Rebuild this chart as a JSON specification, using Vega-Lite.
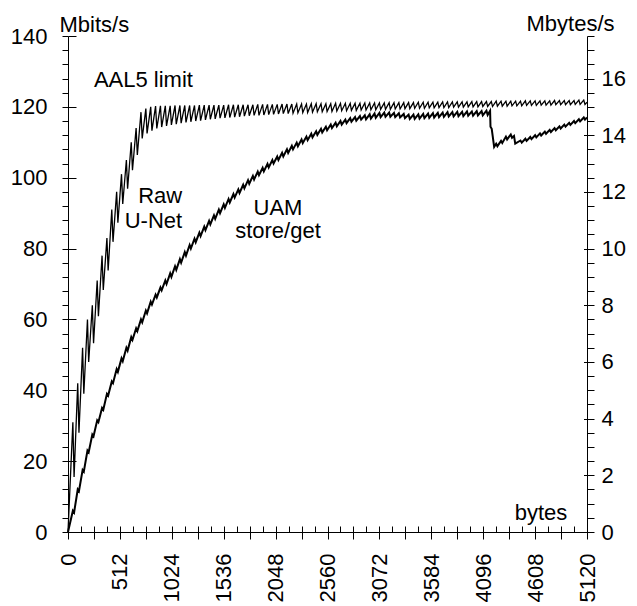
{
  "$schema": "https://vega.github.io/schema/vega-lite/v6.json",
  "autosize": "none",
  "width": 519,
  "height": 496,
  "padding": {"left": 68, "top": 36, "right": 50, "bottom": 74},
  "background": "white",
  "config": {
    "font": "Liberation Sans",
    "view": {"stroke": null},
    "axis": {
      "domainColor": "black", "tickColor": "black", "labelColor": "black",
      "labelFont": "Liberation Sans", "labelFontSize": 22,
      "titleFont": "Liberation Sans", "titleFontSize": 22, "titleFontWeight": "normal", "titleColor": "black",
      "grid": false, "labelFlush": false, "labelOverlap": false, "labelBound": false,
      "tickWidth": 1, "domainWidth": 1
    }
  },
  "datasets": {
    "raw": [
      {"b":0,"v":0},{"b":48,"v":31},{"b":60,"v":15.5},{"b":96,"v":42},{"b":108,"v":28},{"b":144,"v":52},{"b":156,"v":39},
      {"b":192,"v":60},{"b":204,"v":48},{"b":240,"v":64},{"b":252,"v":53.3},{"b":288,"v":71},{"b":300,"v":60.9},
      {"b":336,"v":78},{"b":348,"v":68.3},{"b":384,"v":83},{"b":396,"v":73.8},{"b":432,"v":91},{"b":444,"v":81.9},
      {"b":480,"v":96},{"b":492,"v":87.3},{"b":528,"v":101},{"b":540,"v":92.6},{"b":576,"v":105},{"b":588,"v":96.9},
      {"b":624,"v":110},{"b":636,"v":102.1},{"b":672,"v":114},{"b":684,"v":106.4},{"b":720,"v":118.5},{"b":732,"v":111.1},
      {"b":768,"v":119.5},{"b":780,"v":112.5},{"b":816,"v":120},{"b":828,"v":113.3},{"b":864,"v":120.2},{"b":876,"v":113.9},
      {"b":912,"v":120.3},{"b":924,"v":114.3},{"b":960,"v":120.3},{"b":972,"v":114.6},{"b":1008,"v":120.3},{"b":1020,"v":114.9},
      {"b":1056,"v":120.4},{"b":1068,"v":115.1},{"b":1104,"v":120.4},{"b":1116,"v":115.4},{"b":1152,"v":120.4},{"b":1164,"v":115.6},
      {"b":1200,"v":120.4},{"b":1212,"v":115.8},{"b":1248,"v":120.4},{"b":1260,"v":116.0},{"b":1296,"v":120.5},{"b":1308,"v":116.1},
      {"b":1344,"v":120.5},{"b":1356,"v":116.3},{"b":1392,"v":120.5},{"b":1404,"v":116.5},{"b":1440,"v":120.5},{"b":1452,"v":116.6},
      {"b":1488,"v":120.5},{"b":1500,"v":116.8},{"b":1536,"v":120.5},{"b":1548,"v":116.9},{"b":1584,"v":120.6},{"b":1596,"v":117.0},
      {"b":1632,"v":120.6},{"b":1644,"v":117.1},{"b":1680,"v":120.6},{"b":1692,"v":117.2},{"b":1728,"v":120.6},{"b":1740,"v":117.4},
      {"b":1776,"v":120.6},{"b":1788,"v":117.5},{"b":1824,"v":120.6},{"b":1836,"v":117.6},{"b":1872,"v":120.7},{"b":1884,"v":117.6},
      {"b":1920,"v":120.7},{"b":1932,"v":117.7},{"b":1968,"v":120.7},{"b":1980,"v":117.8},{"b":2016,"v":120.7},{"b":2028,"v":117.9},
      {"b":2064,"v":120.7},{"b":2076,"v":118.0},{"b":2112,"v":120.8},{"b":2124,"v":118.1},{"b":2160,"v":120.8},{"b":2172,"v":118.1},
      {"b":2208,"v":120.8},{"b":2220,"v":118.2},{"b":2256,"v":120.8},{"b":2268,"v":118.3},{"b":2304,"v":120.8},{"b":2316,"v":118.4},
      {"b":2352,"v":120.8},{"b":2364,"v":118.4},{"b":2400,"v":120.9},{"b":2412,"v":118.5},{"b":2448,"v":120.9},{"b":2460,"v":118.6},
      {"b":2496,"v":120.9},{"b":2508,"v":118.6},{"b":2544,"v":120.9},{"b":2556,"v":118.7},{"b":2592,"v":120.9},{"b":2604,"v":118.7},
      {"b":2640,"v":121.0},{"b":2652,"v":118.8},{"b":2688,"v":121.0},{"b":2700,"v":118.9},{"b":2736,"v":121.0},{"b":2748,"v":118.9},
      {"b":2784,"v":121.0},{"b":2796,"v":119.0},{"b":2832,"v":121.0},{"b":2844,"v":119.0},{"b":2880,"v":121.0},{"b":2892,"v":119.1},
      {"b":2928,"v":121.1},{"b":2940,"v":119.1},{"b":2976,"v":121.1},{"b":2988,"v":119.2},{"b":3024,"v":121.1},{"b":3036,"v":119.2},
      {"b":3072,"v":121.1},{"b":3084,"v":119.3},{"b":3120,"v":121.1},{"b":3132,"v":119.3},{"b":3168,"v":121.2},{"b":3180,"v":119.3},
      {"b":3216,"v":121.2},{"b":3228,"v":119.4},{"b":3264,"v":121.2},{"b":3276,"v":119.4},{"b":3312,"v":121.2},{"b":3324,"v":119.5},
      {"b":3360,"v":121.2},{"b":3372,"v":119.5},{"b":3408,"v":121.2},{"b":3420,"v":119.6},{"b":3456,"v":121.3},{"b":3468,"v":119.6},
      {"b":3504,"v":121.3},{"b":3516,"v":119.6},{"b":3552,"v":121.3},{"b":3564,"v":119.7},{"b":3600,"v":121.3},{"b":3612,"v":119.7},
      {"b":3648,"v":121.3},{"b":3660,"v":119.8},{"b":3696,"v":121.4},{"b":3708,"v":119.8},{"b":3744,"v":121.4},{"b":3756,"v":119.8},
      {"b":3792,"v":121.4},{"b":3804,"v":119.9},{"b":3840,"v":121.4},{"b":3852,"v":119.9},{"b":3888,"v":121.4},{"b":3900,"v":119.9},
      {"b":3936,"v":121.4},{"b":3948,"v":120.0},{"b":3984,"v":121.5},{"b":3996,"v":120.0},{"b":4032,"v":121.5},{"b":4044,"v":120.0},
      {"b":4080,"v":121.5},{"b":4092,"v":120.1},{"b":4128,"v":121.5},{"b":4140,"v":120.1},{"b":4176,"v":121.5},{"b":4188,"v":120.1},
      {"b":4224,"v":121.6},{"b":4236,"v":120.2},{"b":4272,"v":121.6},{"b":4284,"v":120.2},{"b":4320,"v":121.6},{"b":4332,"v":120.2},
      {"b":4368,"v":121.6},{"b":4380,"v":120.3},{"b":4416,"v":121.6},{"b":4428,"v":120.3},{"b":4464,"v":121.6},{"b":4476,"v":120.3},
      {"b":4512,"v":121.7},{"b":4524,"v":120.4},{"b":4560,"v":121.7},{"b":4572,"v":120.4},{"b":4608,"v":121.7},{"b":4620,"v":120.4},
      {"b":4656,"v":121.7},{"b":4668,"v":120.5},{"b":4704,"v":121.7},{"b":4716,"v":120.5},{"b":4752,"v":121.7},{"b":4764,"v":120.5},
      {"b":4800,"v":121.8},{"b":4812,"v":120.6},{"b":4848,"v":121.8},{"b":4860,"v":120.6},{"b":4896,"v":121.8},{"b":4908,"v":120.6},
      {"b":4944,"v":121.8},{"b":4956,"v":120.6},{"b":4992,"v":121.8},{"b":5004,"v":120.7},{"b":5040,"v":121.9},{"b":5052,"v":120.7},
      {"b":5088,"v":121.9},{"b":5100,"v":120.7},{"b":5120,"v":121.3}
    ],
    "uam": [
      {"b":0,"v":0},{"b":48,"v":6},{"b":60,"v":5.5},{"b":96,"v":12},{"b":108,"v":11.5},{"b":144,"v":17.5},{"b":156,"v":17},
      {"b":192,"v":23},{"b":204,"v":22.5},{"b":240,"v":27.5},{"b":252,"v":27},{"b":288,"v":31.5},{"b":300,"v":31},
      {"b":336,"v":35},{"b":348,"v":34.5},{"b":384,"v":39},{"b":396,"v":38.5},{"b":432,"v":42.5},{"b":444,"v":42},
      {"b":480,"v":46},{"b":492,"v":45.2},{"b":528,"v":49},{"b":540,"v":48.2},{"b":576,"v":52},{"b":588,"v":51.2},
      {"b":624,"v":55},{"b":636,"v":54.2},{"b":672,"v":57.5},{"b":684,"v":56.7},{"b":720,"v":60},{"b":732,"v":59.2},
      {"b":768,"v":62.5},{"b":780,"v":61.7},{"b":816,"v":65},{"b":828,"v":64.2},{"b":864,"v":67},{"b":876,"v":66.2},
      {"b":912,"v":69},{"b":924,"v":68.2},{"b":960,"v":71},{"b":972,"v":70},{"b":1008,"v":73},{"b":1020,"v":72},
      {"b":1056,"v":75},{"b":1068,"v":74},{"b":1104,"v":77},{"b":1116,"v":76},{"b":1152,"v":79},{"b":1164,"v":78},
      {"b":1200,"v":81},{"b":1212,"v":80},{"b":1248,"v":82.8},{"b":1260,"v":81.8},{"b":1296,"v":84.5},{"b":1308,"v":83.5},
      {"b":1344,"v":86.2},{"b":1356,"v":85.2},{"b":1392,"v":87.8},{"b":1404,"v":86.8},{"b":1440,"v":89.4},{"b":1452,"v":88.4},
      {"b":1488,"v":91},{"b":1500,"v":90},{"b":1536,"v":92.5},{"b":1548,"v":91.5},{"b":1584,"v":94},{"b":1596,"v":93},
      {"b":1632,"v":95.4},{"b":1644,"v":94.4},{"b":1680,"v":96.7},{"b":1692,"v":95.7},{"b":1728,"v":98},{"b":1740,"v":97},
      {"b":1776,"v":99.3},{"b":1788,"v":98.3},{"b":1824,"v":100.5},{"b":1836,"v":99.5},{"b":1872,"v":101.7},{"b":1884,"v":100.7},
      {"b":1920,"v":102.8},{"b":1932,"v":101.8},{"b":1968,"v":103.9},{"b":1980,"v":102.9},{"b":2016,"v":105},{"b":2028,"v":104},
      {"b":2064,"v":106},{"b":2076,"v":105},{"b":2112,"v":107},{"b":2124,"v":106},{"b":2160,"v":108},{"b":2172,"v":107},
      {"b":2208,"v":109},{"b":2220,"v":108},{"b":2256,"v":109.9},{"b":2268,"v":108.9},{"b":2304,"v":110.8},{"b":2316,"v":109.8},
      {"b":2352,"v":111.6},{"b":2364,"v":110.6},{"b":2400,"v":112.4},{"b":2412,"v":111.4},{"b":2448,"v":113.1},{"b":2460,"v":112.1},
      {"b":2496,"v":113.8},{"b":2508,"v":112.8},{"b":2544,"v":114.4},{"b":2556,"v":113.4},{"b":2592,"v":115},{"b":2604,"v":114},
      {"b":2640,"v":115.5},{"b":2652,"v":114.5},{"b":2688,"v":116},{"b":2700,"v":115},{"b":2736,"v":116.4},{"b":2748,"v":115.4},
      {"b":2784,"v":116.8},{"b":2796,"v":115.8},{"b":2832,"v":117.1},{"b":2844,"v":116.1},{"b":2880,"v":117.4},{"b":2892,"v":116.4},
      {"b":2928,"v":117.6},{"b":2940,"v":116.5},{"b":2976,"v":117.9},{"b":2988,"v":116.7},{"b":3024,"v":118.1},{"b":3036,"v":116.9},
      {"b":3072,"v":118.3},{"b":3084,"v":117.1},{"b":3120,"v":118.4},{"b":3132,"v":117.2},{"b":3168,"v":118.4},{"b":3180,"v":117.2},
      {"b":3216,"v":118.3},{"b":3228,"v":117.1},{"b":3264,"v":118.2},{"b":3276,"v":117.0},{"b":3312,"v":118.0},{"b":3324,"v":116.8},
      {"b":3360,"v":117.8},{"b":3372,"v":116.6},{"b":3408,"v":117.8},{"b":3420,"v":116.6},{"b":3456,"v":117.9},{"b":3468,"v":116.7},
      {"b":3504,"v":118.0},{"b":3516,"v":116.8},{"b":3552,"v":118.1},{"b":3564,"v":116.9},{"b":3600,"v":118.2},{"b":3612,"v":117.0},
      {"b":3648,"v":118.3},{"b":3660,"v":117.1},{"b":3696,"v":118.4},{"b":3708,"v":117.2},{"b":3744,"v":118.5},{"b":3756,"v":117.3},
      {"b":3792,"v":118.5},{"b":3804,"v":117.3},{"b":3840,"v":118.6},{"b":3852,"v":117.4},{"b":3888,"v":118.6},{"b":3900,"v":117.4},
      {"b":3936,"v":118.7},{"b":3948,"v":117.5},{"b":3984,"v":118.7},{"b":3996,"v":117.5},{"b":4032,"v":118.8},{"b":4044,"v":117.6},
      {"b":4080,"v":118.8},{"b":4092,"v":117.6},{"b":4128,"v":118.9},{"b":4140,"v":117.7},{"b":4164,"v":118.9},{"b":4168,"v":114.4},
      {"b":4180,"v":113.8},{"b":4204,"v":108.7},{"b":4224,"v":109.6},{"b":4236,"v":108.9},{"b":4272,"v":110.4},{"b":4284,"v":109.8},
      {"b":4320,"v":111.6},{"b":4332,"v":110.8},{"b":4368,"v":112.2},{"b":4380,"v":111.3},{"b":4400,"v":111.8},{"b":4412,"v":109.6},
      {"b":4464,"v":110.5},{"b":4476,"v":109.9},{"b":4512,"v":111.0},{"b":4524,"v":110.4},{"b":4560,"v":111.5},{"b":4572,"v":110.9},
      {"b":4608,"v":112.0},{"b":4620,"v":111.4},{"b":4656,"v":112.5},{"b":4668,"v":111.9},{"b":4704,"v":113.0},{"b":4716,"v":112.4},
      {"b":4752,"v":113.5},{"b":4764,"v":112.9},{"b":4800,"v":114.0},{"b":4812,"v":113.4},{"b":4848,"v":114.5},{"b":4860,"v":113.9},
      {"b":4896,"v":115.0},{"b":4908,"v":114.4},{"b":4944,"v":115.5},{"b":4956,"v":114.9},{"b":4992,"v":116.0},{"b":5004,"v":115.4},
      {"b":5040,"v":116.5},{"b":5052,"v":115.9},{"b":5088,"v":117.0},{"b":5100,"v":116.4},{"b":5120,"v":117.0}
    ],
    "labels": [
      {"t":"AAL5 limit","b":744,"v":125.7},
      {"t":"Raw","b":909,"v":92.9},
      {"t":"U-Net","b":843,"v":85.8},
      {"t":"UAM","b":2071,"v":89.5},
      {"t":"store/get","b":2071,"v":83.0},
      {"t":"bytes","b":4666,"v":3.4}
    ]
  },
  "resolve": {"scale": {"x": "shared", "y": "shared"}, "axis": {"x": "independent", "y": "independent"}},
  "layer": [
    {
      "data": {"name": "raw"},
      "mark": {"type": "line", "color": "black", "strokeWidth": 1.3},
      "encoding": {
        "x": {"field": "b", "type": "quantitative", "scale": {"domain": [0, 5120], "nice": false, "zero": true},
          "axis": {"orient": "bottom", "title": null, "format": "d",
            "values": [0,256,512,768,1024,1280,1536,1792,2048,2304,2560,2816,3072,3328,3584,3840,4096,4352,4608,4864,5120],
            "tickSize": 7, "labelAngle": -90, "labelAlign": "right", "labelBaseline": "middle", "labelPadding": 14,
            "labelExpr": "datum.value % 512 === 0 ? datum.label : ''"}},
        "y": {"field": "v", "type": "quantitative", "scale": {"domain": [0, 140], "nice": false, "zero": true},
          "axis": {"orient": "left", "format": "d",
            "values": [0,4,8,12,16,20,24,28,32,36,40,44,48,52,56,60,64,68,72,76,80,84,88,92,96,100,104,108,112,116,120,124,128,132,136,140],
            "tickSize": 6, "labelPadding": 15,
            "labelExpr": "datum.value % 20 === 0 ? datum.label : ''",
            "title": "Mbits/s", "titleAngle": 0, "titleAlign": "left", "titleBaseline": "alphabetic", "titleX": -9, "titleY": -5}}
      }
    },
    {
      "data": {"name": "uam"},
      "mark": {"type": "line", "color": "black", "strokeWidth": 2},
      "encoding": {
        "x": {"field": "b", "type": "quantitative", "scale": {"domain": [0, 5120], "nice": false, "zero": true},
          "axis": {"orient": "bottom", "title": null, "labels": false, "domain": false, "tickSize": -6,
            "values": [0,128,256,384,512,640,768,896,1024,1152,1280,1408,1536,1664,1792,1920,2048,2176,2304,2432,2560,2688,2816,2944,3072,3200,3328,3456,3584,3712,3840,3968,4096,4224,4352,4480,4608,4736,4864,4992,5120]}},
        "y": {"field": "v", "type": "quantitative", "scale": {"domain": [0, 140], "nice": false, "zero": true},
          "axis": {"orient": "left", "title": null, "labels": false, "domain": false, "tickSize": -8,
            "values": [0,20,40,60,80,100,120,140]}}
      }
    },
    {
      "data": {"name": "labels"},
      "mark": {"type": "text", "color": "black", "fontSize": 22, "font": "Liberation Sans", "align": "center", "baseline": "alphabetic"},
      "encoding": {
        "x": {"field": "b", "type": "quantitative", "scale": {"domain": [0, 5120], "nice": false, "zero": true}, "axis": null},
        "y": {"field": "v", "type": "quantitative", "scale": {"domain": [0, 140], "nice": false, "zero": true},
          "axis": {"orient": "right",
            "values": [0,4,8,12,16,20,24,28,32,36,40,44,48,52,56,60,64,68,72,76,80,84,88,92,96,100,104,108,112,116,120,124,128,132,136,140],
            "tickSize": 7, "labelPadding": 7,
            "labelExpr": "datum.value % 16 === 0 ? format(datum.value / 8, 'd') : ''",
            "title": "Mbytes/s", "titleAngle": 0, "titleAlign": "left", "titleBaseline": "alphabetic", "titleX": -61, "titleY": -6}},
        "text": {"field": "t", "type": "nominal"}
      }
    },
    {
      "data": {"name": "raw"},
      "mark": {"type": "point", "opacity": 0},
      "encoding": {
        "x": {"field": "b", "type": "quantitative", "scale": {"domain": [0, 5120], "nice": false, "zero": true}, "axis": null},
        "y": {"field": "v", "type": "quantitative", "scale": {"domain": [0, 140], "nice": false, "zero": true},
          "axis": {"orient": "right", "title": null, "labels": false, "domain": false, "tickSize": -3.5,
            "values": [0,16,32,48,64,80,96,112,128]}}
      }
    }
  ]
}
